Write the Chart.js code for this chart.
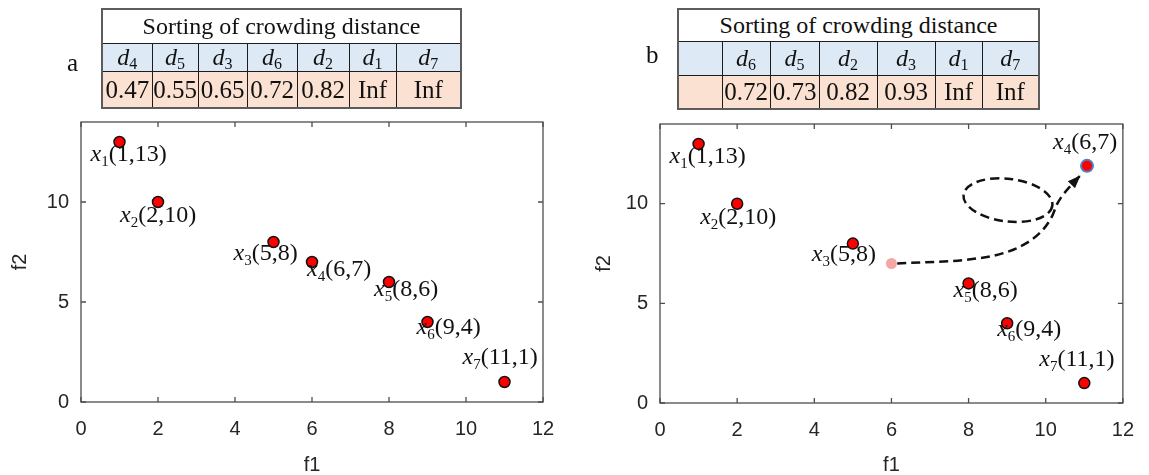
<!DOCTYPE html>
<html>
<head>
<meta charset="utf-8">
<script src="https://cdn.jsdelivr.net/npm/chart.js@4.4.0/dist/chart.umd.min.js"></script>
<style>
  body { margin: 0; background: #fff; }
  #wrap { position: relative; width: 1149px; height: 475px; overflow: hidden; }
  #wrap canvas { position: absolute; top: 0; }
  .panel { position: absolute; font-family: 'Liberation Serif', 'Times New Roman', serif; font-size: 25px; line-height: 24px; color: #111; }
  table.crowd {
    position: absolute; border-collapse: collapse; table-layout: fixed;
    font-family: 'Liberation Serif', 'Times New Roman', serif; color: #111;
    border: 2px solid #5c5c5c;
  }
  table.crowd td { border: 1.5px solid #1c1c1c; text-align: center; padding: 0; line-height: 1; overflow: hidden; }
  table.crowd tr.head td { background: #fff; font-size: 24px; }
  table.crowd tr.ids td { background: #dde9f5; font-size: 24px; }
  table.crowd tr.vals td { background: #fbe1d1; font-size: 25px; }
  table.crowd i { font-style: italic; }
  table.crowd sub { font-size: 16px; vertical-align: -4px; line-height: 0; }
</style>
</head>
<body>
<div id="wrap">
  <canvas id="plotA" width="575" height="475" style="left:0;width:575px;height:475px"></canvas>
  <canvas id="plotB" width="574" height="475" style="left:575px;width:574px;height:475px"></canvas>
  <div class="panel" style="left:67px;top:51px">a</div>
  <div class="panel" style="left:646px;top:43px">b</div>
</div>
<script>
// objective values of the seven solutions
const pointIds = ['1', '2', '3', '4', '5', '6', '7'];
const f1A = [1, 2, 5, 6, 8, 9, 11];
const f2A = [13, 10, 8, 7, 6, 4, 1];
// panel b: x4 moved away, its old spot left as a faded marker
const f1B = [1, 2, 5, 11.07, 8, 9, 11];
const f2B = [13, 10, 8, 11.9, 6, 4, 1];
const ghostF1 = [6];
const ghostF2 = [7];
// dashed trajectory of x4 and the loop next to it
const pathF1 = [6.15, 8.0, 8.9, 9.5, 9.92, 10.16, 10.3, 10.7, 10.9];
const pathF2 = [7.0, 7.2, 7.52, 8.02, 8.68, 9.35, 10.0, 11.02, 11.42];
const loopCenter = [9.02, 10.18];
const loopRadius = [1.16, 1.07];

const xTicks = [0, 2, 4, 6, 8, 10, 12];
const yTicks = [0, 5, 10];

// crowding distance tables
const orderA = ['4', '5', '3', '6', '2', '1', '7'];
const distA = ['0.47', '0.55', '0.65', '0.72', '0.82', 'Inf', 'Inf'];
const orderB = ['', '6', '5', '2', '3', '1', '7'];
const distB = ['', '0.72', '0.73', '0.82', '0.93', 'Inf', 'Inf'];

function buildTable(order, dist, left, colWidths, rowHeights) {
  const t = document.createElement('table');
  t.className = 'crowd';
  t.style.left = left + 'px';
  t.style.top = '8px';
  const cg = document.createElement('colgroup');
  colWidths.forEach(w => {
    const c = document.createElement('col');
    c.style.width = w + 'px';
    cg.appendChild(c);
  });
  t.appendChild(cg);
  t.style.width = colWidths.reduce((a, b) => a + b, 0) + 'px';
  const head = t.insertRow();
  head.className = 'head';
  head.style.height = rowHeights[0] + 'px';
  const hc = head.insertCell();
  hc.colSpan = order.length;
  hc.textContent = 'Sorting of crowding distance';
  const ids = t.insertRow();
  ids.className = 'ids';
  ids.style.height = rowHeights[1] + 'px';
  order.forEach(k => {
    ids.insertCell().innerHTML = k ? '<i>d</i><sub>' + k + '</sub>' : '';
  });
  const vals = t.insertRow();
  vals.className = 'vals';
  vals.style.height = rowHeights[2] + 'px';
  dist.forEach(v => { vals.insertCell().textContent = v; });
  document.getElementById('wrap').appendChild(t);
}

buildTable(orderA, distA, 101, [50, 46, 49, 50, 52, 47, 65], [34, 28, 37]);
buildTable(orderB, distB, 677, [44, 48, 49, 58, 58, 47, 57], [32, 34, 34]);

// label placement in pixels relative to each marker
const labelOffsetA = [[-29, 13], [-38, 14], [-40, 12], [-5, 8], [-15, 8], [-11, 6], [-42, -24]];
const labelOffsetB = [[-29, 13], [-37, 14], [-41, 11], [-34, -23], [-15, 8], [-10, 7], [-45, -23]];

const serif = "'Liberation Serif', 'Times New Roman', serif";
const sans = "'Liberation Sans', Arial, sans-serif";

const frame = {
  id: 'frame',
  beforeDatasetsDraw(chart) {
    const { ctx, chartArea: a, scales: { x, y } } = chart;
    ctx.save();
    ctx.strokeStyle = '#4d4d4d';
    ctx.lineWidth = 1.3;
    ctx.strokeRect(a.left, a.top, a.right - a.left, a.bottom - a.top);
    ctx.beginPath();
    xTicks.forEach(v => {
      const p = x.getPixelForValue(v);
      ctx.moveTo(p, a.bottom); ctx.lineTo(p, a.bottom - 5);
      ctx.moveTo(p, a.top); ctx.lineTo(p, a.top + 5);
    });
    yTicks.forEach(v => {
      const p = y.getPixelForValue(v);
      ctx.moveTo(a.left, p); ctx.lineTo(a.left + 5, p);
      ctx.moveTo(a.right, p); ctx.lineTo(a.right - 5, p);
    });
    ctx.stroke();
    ctx.restore();
  }
};

const loop = {
  id: 'loop',
  beforeDatasetsDraw(chart) {
    const { ctx, scales: { x, y } } = chart;
    const cx = x.getPixelForValue(loopCenter[0]);
    const cy = y.getPixelForValue(loopCenter[1]);
    const rx = x.getPixelForValue(loopCenter[0] + loopRadius[0]) - cx;
    const ry = cy - y.getPixelForValue(loopCenter[1] + loopRadius[1]);
    ctx.save();
    ctx.strokeStyle = '#111';
    ctx.lineWidth = 2.5;
    ctx.setLineDash([9, 5]);
    ctx.beginPath();
    ctx.ellipse(cx, cy, rx, ry, 0.12, 0, Math.PI * 2);
    ctx.stroke();
    ctx.restore();
  },
  afterDatasetsDraw(chart) {
    // arrowhead at the end of the trajectory
    const { ctx, scales: { x, y } } = chart;
    const n = pathF1.length;
    const tx = x.getPixelForValue(pathF1[n - 1]), ty = y.getPixelForValue(pathF2[n - 1]);
    const bx = x.getPixelForValue(pathF1[n - 2]), by = y.getPixelForValue(pathF2[n - 2]);
    const ang = Math.atan2(ty - by, tx - bx);
    ctx.save();
    ctx.fillStyle = '#111';
    ctx.translate(tx, ty);
    ctx.rotate(ang);
    ctx.beginPath();
    ctx.moveTo(0, 0);
    ctx.lineTo(-13, -5);
    ctx.lineTo(-13, 5);
    ctx.closePath();
    ctx.fill();
    ctx.restore();
  }
};

function pointLabels(xs, ys, offsets) {
  return {
    id: 'pointLabels',
    afterDatasetsDraw(chart) {
      const { ctx, scales: { x, y } } = chart;
      ctx.save();
      ctx.fillStyle = '#111';
      ctx.textBaseline = 'alphabetic';
      pointIds.forEach((id, i) => {
        let px = x.getPixelForValue(xs[i]) + offsets[i][0];
        const base = y.getPixelForValue(ys[i]) + offsets[i][1] + 6;
        ctx.font = 'italic 24px ' + serif;
        ctx.fillText('x', px, base);
        px += ctx.measureText('x').width;
        ctx.font = '15px ' + serif;
        ctx.fillText(id, px, base + 5);
        px += ctx.measureText(id).width;
        ctx.font = '24px ' + serif;
        ctx.fillText('(' + f1A[i] + ',' + f2A[i] + ')', px, base);
      });
      ctx.restore();
    }
  };
}

function redPoints(xs, ys, skip) {
  return xs.map((v, i) => ({ x: v, y: ys[i] })).filter((p, i) => i !== skip);
}

function axes(box, titlePad) {
  return {
    x: {
      type: 'linear', min: 0, max: 12,
      afterFit: s => { s.height = box.bottom; },
      afterBuildTicks: s => { s.ticks = xTicks.map(v => ({ value: v })); },
      grid: { display: false, drawTicks: false },
      border: { display: false },
      ticks: { padding: 15, color: '#262626', font: { family: sans, size: 20 } },
      title: { display: true, text: 'f1', color: '#262626', padding: 0,
        font: { family: sans, size: 20, lineHeight: 1 } }
    },
    y: {
      type: 'linear', min: 0, max: 14,
      afterFit: s => { s.width = box.left; },
      afterBuildTicks: s => { s.ticks = yTicks.map(v => ({ value: v })); },
      grid: { display: false, drawTicks: false },
      border: { display: false },
      ticks: { padding: 12, color: '#262626', font: { family: sans, size: 20 } },
      title: { display: true, text: 'f2', color: '#262626', padding: { top: titlePad, bottom: 0 },
        font: { family: sans, size: 20, lineHeight: 1 } }
    }
  };
}

const baseOptions = (box, titlePad) => ({
  responsive: false,
  animation: false,
  events: [],
  layout: { padding: { top: box.top, right: box.right, left: 0, bottom: 0 } },
  plugins: { legend: { display: false }, tooltip: { enabled: false } },
  scales: axes(box, titlePad)
});

const redMarker = {
  pointRadius: 5.5,
  pointBackgroundColor: '#ff0000',
  pointBorderColor: '#111',
  pointBorderWidth: 1.5,
  showLine: false
};

new Chart(document.getElementById('plotA'), {
  type: 'scatter',
  data: {
    datasets: [
      { ...redMarker, data: redPoints(f1A, f2A, -1) }
    ]
  },
  options: baseOptions({ top: 122, right: 32, left: 81, bottom: 73 }, 10),
  plugins: [frame, pointLabels(f1A, f2A, labelOffsetA)]
});

new Chart(document.getElementById('plotB'), {
  type: 'scatter',
  data: {
    datasets: [
      {
        type: 'line',
        data: pathF1.map((v, i) => ({ x: v, y: pathF2[i] })),
        borderColor: '#111',
        borderWidth: 2.5,
        borderDash: [9, 5],
        pointRadius: 0,
        cubicInterpolationMode: 'monotone',
        fill: false
      },
      {
        data: ghostF1.map((v, i) => ({ x: v, y: ghostF2[i] })),
        pointRadius: 5.5,
        pointBackgroundColor: '#f6a5a5',
        pointBorderColor: '#f6a5a5',
        pointBorderWidth: 0,
        showLine: false
      },
      { ...redMarker, data: redPoints(f1B, f2B, 3) },
      {
        data: [{ x: f1B[3], y: f2B[3] }],
        pointRadius: 6,
        pointBackgroundColor: '#ff0000',
        pointBorderColor: '#4f7fc0',
        pointBorderWidth: 2,
        showLine: false
      }
    ]
  },
  options: baseOptions({ top: 124, right: 26, left: 85, bottom: 72 }, 19),
  plugins: [frame, loop, pointLabels(f1B, f2B, labelOffsetB)]
});
</script>
</body>
</html>
